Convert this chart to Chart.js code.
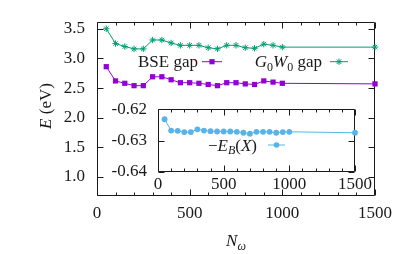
<!DOCTYPE html>
<html><head><meta charset="utf-8">
<script src="https://cdn.jsdelivr.net/npm/chart.js@4.4.1/dist/chart.umd.min.js"></script>
<style>
html,body{margin:0;padding:0;background:#fff;}
#wrap{position:relative;width:407px;height:254px;overflow:hidden;background:#fff;}
#main{position:absolute;left:0;top:0;}
#inset{position:absolute;left:100px;top:88px;}
</style></head><body>
<div id="wrap"><canvas id="main" width="407" height="254"></canvas><canvas id="inset" width="290" height="112"></canvas></div>
<script>
// ---- data ----
const nOmega = [50,100,150,200,250,300,350,400,450,500,550,600,650,700,750,800,850,900,950,1000,1500];
const bseGap = [2.86,2.62,2.58,2.54,2.54,2.69,2.69,2.64,2.59,2.59,2.58,2.56,2.54,2.59,2.59,2.57,2.56,2.62,2.60,2.58,2.57];
const g0w0Gap = [3.50,3.25,3.20,3.16,3.16,3.31,3.31,3.26,3.22,3.22,3.22,3.18,3.16,3.22,3.22,3.18,3.17,3.24,3.22,3.19,3.19];
const bindingEnergy = [-0.6232,-0.6268,-0.6269,-0.6273,-0.6273,-0.6264,-0.6268,-0.6270,-0.6271,-0.6271,-0.6271,-0.6272,-0.6275,-0.6278,-0.6272,-0.6272,-0.6272,-0.6275,-0.6273,-0.6272,-0.6275];
const mainXTicks = [0,500,1000,1500];
const mainYTicks = [1.0,1.5,2.0,2.5,3.0,3.5];
const insetXTicks = [0,500,1000,1500];
const insetYTicks = [-0.64,-0.63,-0.62];

const FONT = "'Liberation Serif','Times New Roman',serif";
const FS = 17;
const PURPLE = '#9400d3', GREEN = '#009e73', BLUE = '#56b4e9', INK = '#1a1a1a';

function segFont(s, size){ return (s.it?'italic ':'') + (s.sub? Math.round(size*0.7) : size) + 'px ' + FONT; }
function richWidth(ctx, segs, size){
  let w = 0; segs.forEach(s=>{ ctx.font = segFont(s,size); w += ctx.measureText(s.t).width; }); return w;
}
function drawRich(ctx, segs, x, y, size, align){
  let w = richWidth(ctx, segs, size);
  let cx = align==='right' ? x - w : (align==='center' ? x - w/2 : x);
  ctx.textBaseline = 'alphabetic'; ctx.textAlign = 'left'; ctx.fillStyle = INK;
  segs.forEach(s=>{ ctx.font = segFont(s,size); ctx.fillText(s.t, cx, y + (s.sub? size*0.22:0)); cx += ctx.measureText(s.t).width; });
}
function marker(ctx, style, x, y, color){
  ctx.save(); ctx.fillStyle = color; ctx.strokeStyle = color; ctx.lineWidth = 1;
  if (style==='rect'){ ctx.fillRect(x-2.6, y-2.6, 5.2, 5.2); }
  else if (style==='star'){ const r=3.2; ctx.beginPath();
    for (let k=0;k<4;k++){ const a=k*Math.PI/4; ctx.moveTo(x-r*Math.cos(a), y-r*Math.sin(a)); ctx.lineTo(x+r*Math.cos(a), y+r*Math.sin(a)); }
    ctx.stroke(); }
  else { ctx.beginPath(); ctx.arc(x,y,2.8,0,Math.PI*2); ctx.fill(); }
  ctx.restore();
}
function sample(ctx, x0, x1, y, style, color){
  ctx.save(); ctx.strokeStyle = color; ctx.lineWidth = 1; ctx.beginPath(); ctx.moveTo(x0,y); ctx.lineTo(x1,y); ctx.stroke(); ctx.restore();
  marker(ctx, style, (x0+x1)/2, y, color);
}
function framePlugin(xMinorStep, xMajorStep, xMax, yTickList){
  return { id:'frameTicks', beforeDatasetsDraw(chart){
    const ctx = chart.ctx, a = chart.chartArea, xs = chart.scales.x, ys = chart.scales.y;
    const L = Math.round(a.left)+0.5, R = Math.round(a.right)-0.5, T = Math.round(a.top)+0.5, B = Math.round(a.bottom)-0.5;
    ctx.save(); ctx.strokeStyle = INK; ctx.lineWidth = 1; ctx.beginPath();
    ctx.rect(L, T, R-L, B-T);
    for (let v=0; v<=xMax; v+=xMinorStep){
      const px = Math.round(xs.getPixelForValue(v))+0.5, len = (v % xMajorStep===0) ? 6 : 3;
      ctx.moveTo(px,B); ctx.lineTo(px,B-len); ctx.moveTo(px,T); ctx.lineTo(px,T+len);
    }
    yTickList.forEach(v=>{ const py = Math.round(ys.getPixelForValue(v))+0.5;
      ctx.moveTo(L,py); ctx.lineTo(L+6,py); ctx.moveTo(R,py); ctx.lineTo(R-6,py); });
    ctx.stroke(); ctx.restore();
  }};
}
const pts = ys => nOmega.map((x,i)=>({x, y: ys[i]}));
const tickFont = {family: FONT, size: FS};

// ---- main chart ----
new Chart(document.getElementById('main'), {
  type: 'line',
  data: { datasets: [
    { label:'BSE gap', data: pts(bseGap), borderColor: PURPLE, backgroundColor: PURPLE, borderWidth: 1,
      pointStyle:'rect', pointRadius: 3.7, pointBackgroundColor: PURPLE, pointBorderColor: PURPLE, pointBorderWidth: 0, clip: false },
    { label:'G0W0 gap', data: pts(g0w0Gap), borderColor: GREEN, backgroundColor: GREEN, borderWidth: 1,
      pointStyle:'star', pointRadius: 3.2, pointBorderColor: GREEN, pointBorderWidth: 1, clip: false }
  ]},
  options: {
    responsive: false, animation: false, devicePixelRatio: 1,
    layout: { padding: { left: 33, top: 16, right: 32, bottom: 0 } },
    plugins: { legend: { display: false }, tooltip: { enabled: false } },
    scales: {
      x: { type:'linear', min: 0, max: 1500,
        grid: { display: false, drawTicks: false }, border: { display: false },
        ticks: { font: tickFont, color: INK, padding: 7, maxRotation: 0, callback: v => String(v) },
        afterBuildTicks: s => { s.ticks = mainXTicks.map(v=>({value:v})); },
        afterFit: s => { s.height = 58; } },
      y: { type:'linear', min: 0.68, max: 3.61,
        grid: { display: false, drawTicks: false }, border: { display: false },
        ticks: { font: tickFont, color: INK, padding: 12, callback: v => Number(v).toFixed(1) },
        afterBuildTicks: s => { s.ticks = mainYTicks.map(v=>({value:v})); },
        afterFit: s => { s.width = 64; } }
    }
  },
  plugins: [ framePlugin(100, 500, 1500, mainYTicks), { id:'mainText', afterDraw(chart){
    const ctx = chart.ctx;
    // legend
    drawRich(ctx, [{t:'BSE gap'}], 198, 67, FS, 'right');
    sample(ctx, 202, 222, 61.7, 'rect', PURPLE);
    drawRich(ctx, [{t:'G',it:true},{t:'0',sub:true},{t:'W',it:true},{t:'0',sub:true},{t:' gap'}], 322, 67, FS, 'right');
    sample(ctx, 330, 348, 61.7, 'star', GREEN);
    // axis titles
    drawRich(ctx, [{t:'N',it:true},{t:'ω',it:true,sub:true}], 236, 246, FS, 'center');
    ctx.save(); ctx.translate(50.5, 106); ctx.rotate(-Math.PI/2);
    drawRich(ctx, [{t:'E',it:true},{t:' (eV)'}], 0, 0, FS, 'center');
    ctx.restore();
  }} ]
});

// ---- inset chart ----
new Chart(document.getElementById('inset'), {
  type: 'line',
  data: { datasets: [
    { label:'-E_B(X)', data: pts(bindingEnergy), borderColor: BLUE, backgroundColor: BLUE, borderWidth: 1,
      pointStyle:'circle', pointRadius: 2.9, pointBackgroundColor: BLUE, pointBorderColor: BLUE, pointBorderWidth: 0, clip: false }
  ]},
  options: {
    responsive: false, animation: false, devicePixelRatio: 1,
    layout: { padding: { left: 0, top: 11, right: 35, bottom: 0 } },
    plugins: { legend: { display: false }, tooltip: { enabled: false } },
    scales: {
      x: { type:'linear', min: 0, max: 1500,
        grid: { display: false, drawTicks: false }, border: { display: false },
        ticks: { font: tickFont, color: INK, padding: 2, maxRotation: 0, callback: v => String(v) },
        afterBuildTicks: s => { s.ticks = insetXTicks.map(v=>({value:v})); },
        afterFit: s => { s.height = 28; } },
      y: { type:'linear', min: -0.64, max: -0.62,
        grid: { display: false, drawTicks: false }, border: { display: false },
        ticks: { font: tickFont, color: INK, padding: 11, callback: v => Number(v).toFixed(2) },
        afterBuildTicks: s => { s.ticks = insetYTicks.map(v=>({value:v})); },
        afterFit: s => { s.width = 58; } }
    }
  },
  plugins: [ framePlugin(100, 500, 1500, insetYTicks), { id:'insetText', afterDraw(chart){
    const ctx = chart.ctx;
    drawRich(ctx, [{t:'−'},{t:'E',it:true},{t:'B',it:true,sub:true},{t:'('},{t:'X',it:true},{t:')'}], 157, 62.5, FS, 'right');
    sample(ctx, 168, 185, 57, 'circle', BLUE);
  }} ]
});
</script>
</body></html>
